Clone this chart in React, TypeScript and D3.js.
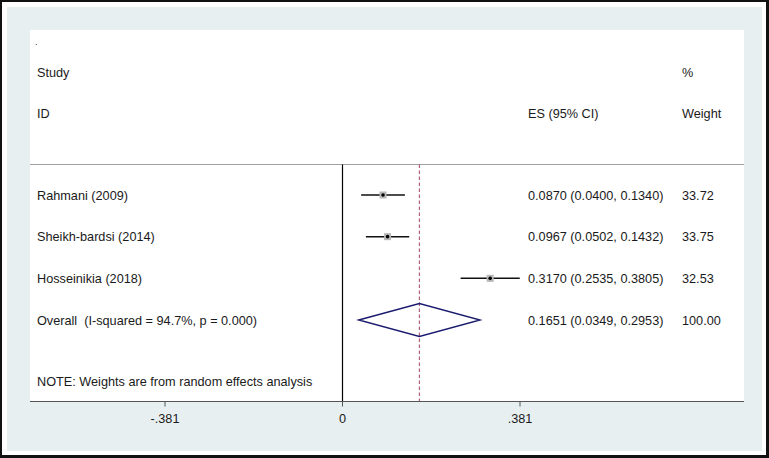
import React from "react";
import * as d3 from "d3";

const studies = ["Rahmani (2009)", "Sheikh-bardsi (2014)", "Hosseinikia (2018)"];
const es = [0.087, 0.0967, 0.317];
const lower = [0.04, 0.0502, 0.2535];
const upper = [0.134, 0.1432, 0.3805];
const weights = ["33.72", "33.75", "32.53"];
const esLabels = ["0.0870 (0.0400, 0.1340)", "0.0967 (0.0502, 0.1432)", "0.3170 (0.2535, 0.3805)"];
const overall = { label: "Overall  (I-squared = 94.7%, p = 0.000)", es: 0.1651, lo: 0.0349, hi: 0.2953, text: "0.1651 (0.0349, 0.2953)", weight: "100.00" };
const xTicks = [-0.381, 0, 0.381];
const xTickLabels = ["-.381", "0", ".381"];

const W = 769;
const H = 458;

export default function App() {
  const x = d3.scaleLinear().domain([0, 0.381]).range([342.5, 520]);
  const rowY = d3.scalePoint<number>().domain([0, 1, 2, 3]).range([195, 320]);
  const font = "'Liberation Sans', Arial, sans-serif";
  const txt = "#1a1a1a";
  const fs = 12.7;
  const oy = rowY(3)!;
  const diamond = [
    [x(overall.lo), oy],
    [x(overall.es), oy - 16.5],
    [x(overall.hi), oy],
    [x(overall.es), oy + 16.5],
  ];
  const dline = d3.line()(diamond as [number, number][]) + "Z";
  return (
    <svg width={W} height={H} style={{ position: "absolute", left: 0, top: 0, display: "block" }}>
      <rect x={0} y={0} width={W} height={H} fill="#111" />
      <rect x={2} y={2} width={W - 5} height={H - 5} fill="#ffffff" />
      <rect x={7} y={7} width={W - 14} height={H - 14} fill="#e8eff1" />
      <rect x={30} y={30} width={714} height={371.5} fill="#ffffff" />
      {/* header */}
      <g fontFamily={font} fontSize={fs} fill={txt}>
        <text x={35} y={45} fontSize={9}>.</text>
        <text x={37} y={77}>Study</text>
        <text x={37} y={118}>ID</text>
        <text x={528} y={118}>ES (95% CI)</text>
        <text x={682} y={77}>%</text>
        <text x={682} y={118}>Weight</text>
      </g>
      <line x1={30} x2={744} y1={164.5} y2={164.5} stroke="#a0a0a0" strokeWidth={1} />
      {/* zero line */}
      <line x1={x(0)} x2={x(0)} y1={164.5} y2={401.5} stroke="#000" strokeWidth={1.2} />
      {/* overall dashed line */}
      <line x1={x(overall.es)} x2={x(overall.es)} y1={164.5} y2={401.5} stroke="#b0607a" strokeWidth={1.2} strokeDasharray="3.5,2.5" />
      {/* studies */}
      {studies.map((s, i) => {
        const y = rowY(i)!;
        return (
          <g key={s}>
            <text x={37} y={y + 4.5} fontFamily={font} fontSize={fs} fill={txt}>{s}</text>
            <line x1={x(lower[i])} x2={x(upper[i])} y1={y} y2={y} stroke="#111" strokeWidth={1.5} />
            <rect x={x(es[i]) - 3.5} y={y - 3.5} width={7} height={7} fill="#b8b8b8" />
            <circle cx={x(es[i])} cy={y} r={1.8} fill="#000" />
            <text x={528} y={y + 4.5} fontFamily={font} fontSize={fs} fill={txt}>{esLabels[i]}</text>
            <text x={682} y={y + 4.5} fontFamily={font} fontSize={fs} fill={txt}>{weights[i]}</text>
          </g>
        );
      })}
      {/* overall */}
      <text x={37} y={oy + 4.5} fontFamily={font} fontSize={fs} fill={txt} style={{ whiteSpace: "pre" }}>{overall.label}</text>
      <path d={dline} fill="none" stroke="#1b1b6e" strokeWidth={1.4} />
      <text x={528} y={oy + 4.5} fontFamily={font} fontSize={fs} fill={txt}>{overall.text}</text>
      <text x={682} y={oy + 4.5} fontFamily={font} fontSize={fs} fill={txt}>{overall.weight}</text>
      <text x={37} y={386} fontFamily={font} fontSize={fs} fill={txt}>NOTE: Weights are from random effects analysis</text>
      {/* axis */}
      <line x1={30} x2={744} y1={401.5} y2={401.5} stroke="#555" strokeWidth={1.2} />
      {xTicks.map((t, i) => (
        <g key={t}>
          <line x1={x(t)} x2={x(t)} y1={401.5} y2={406.5} stroke="#555" strokeWidth={1} />
          <text x={x(t)} y={422.5} textAnchor="middle" fontFamily={font} fontSize={fs} fill={txt}>{xTickLabels[i]}</text>
        </g>
      ))}
    </svg>
  );
}
